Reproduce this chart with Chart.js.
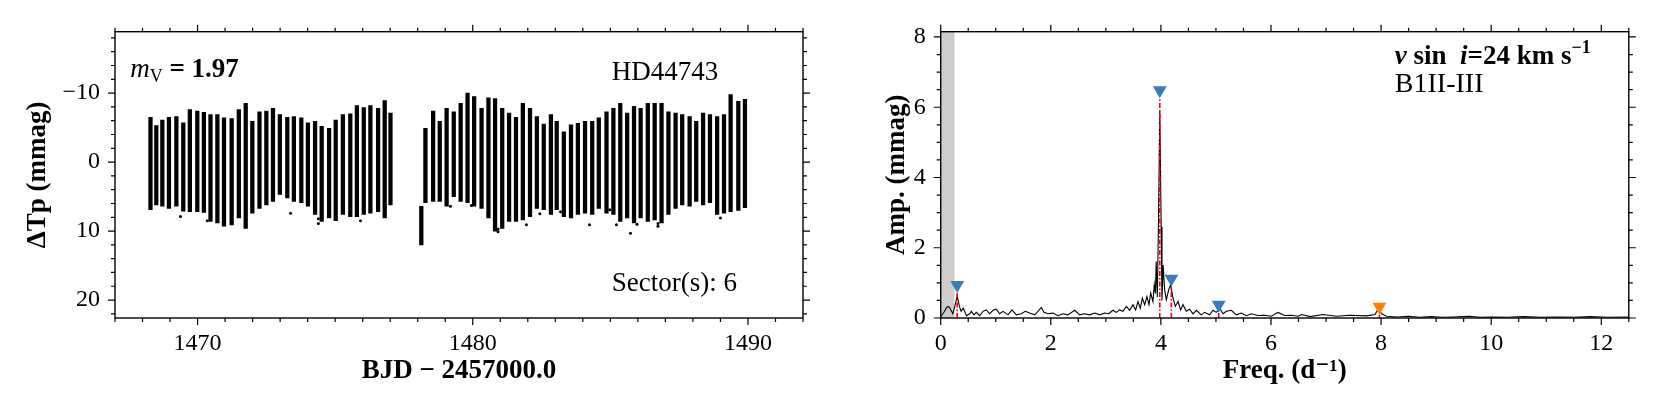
<!DOCTYPE html>
<html>
<head>
<meta charset="utf-8">
<script src="https://cdn.jsdelivr.net/npm/chart.js@4.4.0/dist/chart.umd.min.js"></script>
<style>
  html, body { margin: 0; padding: 0; background: #fff; }
  #wrap { position: relative; width: 1661px; height: 415px; overflow: hidden; }
  canvas { position: absolute; top: 0; }
  #lc { left: 0; }
  #ft { left: 830px; }
</style>
</head>
<body>
<div id="wrap">
  <canvas id="lc" width="830" height="415"></canvas>
  <canvas id="ft" width="831" height="415"></canvas>
</div>
<script>
// --------- Light curve (left panel) ---------
// One entry per pulsation cycle: time of the stripe, brightest and faintest value (mmag)
const lcTime = [
  1468.29, 1468.50, 1468.72, 1468.96, 1469.23, 1469.48, 1469.72, 1469.99, 1470.23, 1470.47,
  1470.72, 1470.96, 1471.24, 1471.50, 1471.75, 1471.99, 1472.25, 1472.50, 1472.74, 1472.99,
  1473.26, 1473.50, 1473.77, 1474.01, 1474.27, 1474.51, 1474.78, 1475.02, 1475.28, 1475.55,
  1475.79, 1476.04, 1476.28, 1476.56, 1476.80, 1477.01,
  1478.13, 1478.28, 1478.56, 1478.80, 1479.05, 1479.31, 1479.56, 1479.81, 1480.05, 1480.32,
  1480.57, 1480.81, 1481.07, 1481.32, 1481.57, 1481.82, 1482.08, 1482.33, 1482.58, 1482.84,
  1483.05, 1483.31, 1483.57, 1483.82, 1484.08, 1484.34, 1484.58, 1484.86, 1485.11, 1485.36,
  1485.61, 1485.86, 1486.10, 1486.36, 1486.61, 1486.86, 1487.11, 1487.37, 1487.61, 1487.88,
  1488.12, 1488.37, 1488.62, 1488.88, 1489.13, 1489.37, 1489.65, 1489.89
];
const lcTop = [
  -6.5, -5.3, -6.1, -6.5, -6.6, -5.7, -7.6, -7.4, -7.2, -6.9,
  -6.9, -6.4, -6.3, -7.6, -8.5, -5.9, -7.3, -7.4, -7.8, -6.9,
  -6.5, -6.6, -6.4, -5.7, -5.9, -5.2, -4.9, -6.1, -6.9, -7.0,
  -8.2, -7.9, -8.2, -7.8, -8.9, -7.1,
  6.4, -4.9, -7.4, -5.9, -7.8, -7.3, -8.5, -10.0, -9.5, -7.8,
  -9.3, -9.2, -7.8, -7.1, -6.5, -8.5, -7.8, -6.6, -5.5, -6.9,
  -5.9, -4.4, -5.4, -5.6, -5.9, -5.9, -6.4, -7.3, -7.8, -8.5,
  -7.1, -8.1, -7.8, -8.5, -8.5, -8.5, -7.3, -7.1, -6.9, -6.6,
  -5.9, -7.1, -6.9, -6.6, -6.9, -9.8, -8.8, -9.1
];
const lcBottom = [
  6.9, 6.2, 6.4, 6.7, 6.4, 7.1, 7.2, 7.2, 7.3, 8.6,
  8.8, 9.3, 9.1, 8.1, 9.6, 7.4, 6.7, 6.2, 5.7, 4.7,
  5.2, 5.7, 5.9, 6.4, 7.6, 8.6, 8.1, 8.5, 7.6, 7.9,
  7.9, 7.6, 7.4, 7.2, 8.1, 6.2,
  12.0, 5.9, 5.7, 5.7, 6.4, 5.0, 5.7, 5.9, 6.4, 6.7,
  8.1, 10.0, 9.6, 8.6, 8.6, 8.4, 7.9, 6.7, 6.9, 7.6,
  6.9, 7.9, 8.1, 7.6, 7.4, 7.6, 6.7, 7.4, 7.6, 8.6,
  8.1, 8.8, 8.1, 8.6, 8.4, 8.8, 7.6, 6.7, 6.2, 6.4,
  5.7, 6.2, 5.9, 7.6, 7.4, 7.2, 7.0, 6.6
];
// Isolated points that stand out of the stripes
const outTime = [1469.38, 1470.35, 1473.38, 1474.39, 1474.39, 1475.92, 1479.19, 1479.95, 1480.92,
  1480.92, 1481.95, 1482.44, 1483.19, 1484.24, 1484.98, 1485.22, 1485.73, 1485.97, 1486.73, 1486.73, 1489.00];
const outMag = [7.9, 8.5, 7.4, 8.2, 8.9, 8.5, 6.4, 6.3, 9.7,
  10.1, 9.1, 7.5, 7.2, 9.1, 6.9, 9.1, 10.3, 9.0, 9.3, 8.9, 8.1];
const lcXTicks = [1470, 1480, 1490];
const lcYTicks = [-10, 0, 10, 20];

// --------- Amplitude spectrum (right panel) ---------
const freq = [
  0.00, 0.04, 0.07, 0.10, 0.13, 0.16, 0.18, 0.22, 0.26, 0.30, 0.34, 0.37, 0.41, 0.47, 0.50,
  0.53, 0.556, 0.605, 0.647, 0.708, 0.768, 0.829, 0.889, 0.95, 1.011, 1.071, 1.132, 1.223,
  1.295, 1.374, 1.465, 1.537, 1.616, 1.707, 1.767, 1.828, 1.876, 1.949, 2.04, 2.131, 2.222,
  2.312, 2.434, 2.525, 2.615, 2.706, 2.797, 2.888, 2.979, 3.051, 3.13, 3.19, 3.251, 3.311,
  3.372, 3.432, 3.493, 3.541, 3.584, 3.626, 3.663, 3.705, 3.747, 3.784, 3.814, 3.856, 3.88,
  3.90, 3.915, 3.935, 3.955, 3.98, 4.005, 4.02, 4.04, 4.068, 4.099, 4.141, 4.177, 4.22,
  4.262, 4.311, 4.359, 4.401, 4.462, 4.522, 4.583, 4.644, 4.734, 4.795, 4.886, 4.946, 5.007,
  5.068, 5.128, 5.189, 5.28, 5.37, 5.461, 5.552, 5.642, 5.763, 5.885, 6.006, 6.127, 6.248,
  6.369, 6.49, 6.56, 6.71, 6.94, 7.19, 7.43, 7.74, 7.89, 7.95, 8.01, 8.10, 8.3, 8.5, 8.7,
  8.9, 9.1, 9.3, 9.6, 9.8, 10.0, 10.3, 10.6, 10.9, 11.2, 11.5, 11.8, 12.1, 12.5
];
const amp = [
  0.04, 0.12, 0.19, 0.28, 0.33, 0.30, 0.24, 0.12, 0.35, 0.62, 0.33, 0.19, 0.28, 0.06, 0.10,
  0.12, 0.19, 0.09, 0.16, 0.065, 0.19, 0.23, 0.12, 0.22, 0.25, 0.12, 0.19, 0.09,
  0.23, 0.09, 0.12, 0.19, 0.14, 0.09, 0.19, 0.30, 0.16, 0.12, 0.14, 0.065, 0.12,
  0.09, 0.22, 0.09, 0.12, 0.09, 0.14, 0.09, 0.14, 0.12, 0.22, 0.16, 0.23, 0.19,
  0.33, 0.22, 0.38, 0.23, 0.47, 0.28, 0.57, 0.38, 0.61, 0.38, 0.71, 0.47, 0.95,
  0.70, 1.61, 0.60, 2.60, 5.90, 2.60, 0.50, 1.51, 0.80, 0.52, 0.80, 0.95, 0.57,
  0.33, 0.47, 0.23, 0.38, 0.19, 0.25, 0.12, 0.22, 0.09, 0.16, 0.09, 0.22, 0.16,
  0.28, 0.12, 0.19, 0.22, 0.09, 0.14, 0.065, 0.12, 0.07, 0.08, 0.05, 0.16, 0.07,
  0.08, 0.05, 0.10, 0.04, 0.10, 0.05, 0.08, 0.06, 0.10, 0.26, 0.12, 0.05, 0.03, 0.05, 0.02,
  0.04, 0.02, 0.03, 0.05, 0.02, 0.03, 0.02, 0.04, 0.02, 0.03, 0.02, 0.04, 0.02, 0.03
];
// Extracted frequencies: red line height and triangle marker height
const peakFreq = [0.30, 3.98, 4.19, 5.05, 7.97];
const peakAmp = [0.71, 6.25, 0.89, 0.15, 0.09];
const markerAmp = [0.94, 6.48, 1.12, 0.38, 0.32];
const peakKind = ["indep", "indep", "indep", "indep", "combo"];
const lowFreqBand = [0, 0.25];
const ftXTicks = [0, 2, 4, 6, 8, 10, 12];
const ftYTicks = [0, 2, 4, 6, 8];

// --------- Shared look ---------
const SERIF = '"Liberation Serif", "DejaVu Serif", serif';
Chart.defaults.font.family = SERIF;
Chart.defaults.color = "#000";

// Frame with outward ticks on all four sides (matplotlib style)
const framePlugin = {
  id: "frame",
  beforeDatasetsDraw(chart, args, opts) {
    if (!opts.band) return;
    const { ctx, chartArea: a, scales: { x } } = chart;
    const x0 = x.getPixelForValue(opts.band[0]);
    const x1 = x.getPixelForValue(opts.band[1]);
    ctx.save();
    ctx.fillStyle = "#cccccc";
    ctx.fillRect(x0, a.top, x1 - x0, a.height);
    ctx.restore();
  },
  afterDatasetsDraw(chart, args, opts) {
    const { ctx, chartArea: a, scales: { x, y } } = chart;
    const minors = (s, step) => {
      const out = [];
      for (let k = Math.ceil(s.min / step - 1e-9); k * step <= s.max + 1e-9; k++) out.push(k * step);
      return out;
    };
    ctx.save();
    ctx.strokeStyle = "#000";
    ctx.lineWidth = 1.2;
    ctx.beginPath();
    const tickX = (v, len) => {
      const p = x.getPixelForValue(v);
      ctx.moveTo(p, a.bottom); ctx.lineTo(p, a.bottom + len);
      ctx.moveTo(p, a.top); ctx.lineTo(p, a.top - len);
    };
    const tickY = (v, len) => {
      const p = y.getPixelForValue(v);
      ctx.moveTo(a.left, p); ctx.lineTo(a.left - len, p);
      ctx.moveTo(a.right, p); ctx.lineTo(a.right + len, p);
    };
    minors(x, opts.xMinor).forEach((v) => tickX(v, 4));
    minors(y, opts.yMinor).forEach((v) => tickY(v, 4));
    x.ticks.forEach((t) => tickX(t.value, 7));
    y.ticks.forEach((t) => tickY(t.value, 7));
    ctx.stroke();
    ctx.lineWidth = 1.4;
    ctx.strokeRect(a.left, a.top, a.width, a.height);
    ctx.restore();
  }
};

// Text annotations placed in axes fractions, built from runs of differently styled text
const notesPlugin = {
  id: "notes",
  afterDraw(chart, args, opts) {
    const { ctx, chartArea: a } = chart;
    ctx.save();
    ctx.fillStyle = "#000";
    ctx.textBaseline = "alphabetic";
    ctx.textAlign = "left";
    (opts.items || []).forEach((item) => {
      let px = a.left + item.fx * a.width;
      const py = a.top + item.fy * a.height;
      item.runs.forEach((r) => {
        ctx.font = r.font;
        ctx.fillText(r.text, px, py + (r.dy || 0));
        px += ctx.measureText(r.text).width;
      });
    });
    ctx.restore();
  }
};

const plainFmt = (v) => (v < 0 ? "\u2212" + Math.abs(v) : String(v));
const tickFont = { size: 24 };
const titleFont = { size: 27, weight: "bold" };

// --------- Chart: light curve ---------
const lcBars = lcTime.map((t, i) => ({ x: t, y: [lcBottom[i], lcTop[i]] }));
const lcOut = outTime.map((t, i) => ({ x: t, y: outMag[i] }));

new Chart(document.getElementById("lc"), {
  type: "bar",
  data: {
    datasets: [
      {
        type: "bar",
        data: lcBars,
        backgroundColor: "#000",
        borderWidth: 0,
        barThickness: 3.6,
        grouped: false
      },
      {
        type: "scatter",
        data: lcOut,
        pointRadius: 1.5,
        backgroundColor: "#000",
        borderWidth: 0
      }
    ]
  },
  options: {
    responsive: false,
    animation: false,
    events: [],
    layout: { padding: { top: 31.7, right: 27, left: 0, bottom: 0 } },
    plugins: {
      legend: { display: false },
      tooltip: { enabled: false },
      frame: { xMinor: 1, yMinor: 2 },
      notes: {
        items: [
          {
            fx: 0.022, fy: 0.159,
            runs: [
              { text: "m", font: `italic 27px ${SERIF}` },
              { text: "V", font: `18px ${SERIF}`, dy: 5 },
              { text: " = 1.97", font: `bold 27px ${SERIF}` }
            ]
          },
          { fx: 0.722, fy: 0.169, runs: [{ text: "HD44743", font: `27px ${SERIF}` }] },
          { fx: 0.722, fy: 0.905, runs: [{ text: "Sector(s): 6", font: `27px ${SERIF}` }] }
        ]
      }
    },
    scales: {
      x: {
        type: "linear",
        min: 1467,
        max: 1492,
        offset: false,
        grid: { display: false, drawTicks: false },
        border: { display: false },
        afterBuildTicks: (s) => { s.ticks = lcXTicks.map((v) => ({ value: v })); },
        afterFit: (s) => { s.height = 97; },
        ticks: { padding: 11, font: tickFont, autoSkip: false, maxRotation: 0, callback: plainFmt },
        title: {
          display: true,
          text: "BJD \u2212 2457000.0",
          font: titleFont,
          padding: { top: 0, bottom: 28 }
        }
      },
      y: {
        type: "linear",
        reverse: true,
        min: -18.9,
        max: 22.6,
        grid: { display: false, drawTicks: false },
        border: { display: false },
        afterBuildTicks: (s) => { s.ticks = lcYTicks.map((v) => ({ value: v })); },
        afterFit: (s) => { s.width = 115; },
        ticks: { padding: 15, font: tickFont, callback: plainFmt },
        title: {
          display: true,
          text: "\u0394Tp (mmag)",
          font: titleFont,
          padding: { top: 22, bottom: 0 }
        }
      }
    }
  },
  plugins: [framePlugin, notesPlugin]
});

// --------- Chart: amplitude spectrum ---------
const ftLine = freq.map((f, i) => ({ x: f, y: amp[i] }));
const redLines = peakFreq.map((f, i) => ({
  type: "line",
  data: [{ x: f, y: 0 }, { x: f, y: peakAmp[i] }],
  borderColor: "#ff0000",
  borderWidth: 1.6,
  borderDash: [5, 2, 1.5, 2],
  pointRadius: 0,
  order: 1
}));

new Chart(document.getElementById("ft"), {
  type: "line",
  data: {
    datasets: [
      {
        type: "scatter",
        data: peakFreq.map((f, i) => ({ x: f, y: markerAmp[i] })),
        pointStyle: "triangle",
        rotation: 180,
        pointRadius: 8,
        backgroundColor: peakKind.map((k) => (k === "combo" ? "#ff7f00" : "#377eb8")),
        borderWidth: 0,
        order: 0
      },
      ...redLines,
      {
        type: "line",
        data: ftLine,
        borderColor: "#000",
        borderWidth: 1.1,
        pointRadius: 0,
        tension: 0,
        order: 2
      }
    ]
  },
  options: {
    responsive: false,
    animation: false,
    events: [],
    layout: { padding: { top: 31.7, right: 32.2, left: 0, bottom: 0 } },
    plugins: {
      legend: { display: false },
      tooltip: { enabled: false },
      frame: { xMinor: 0.5, yMinor: 0.5, band: lowFreqBand },
      notes: {
        items: [
          {
            fx: 0.660, fy: 0.113,
            runs: [
              { text: "v", font: `italic bold 27px ${SERIF}` },
              { text: " sin  ", font: `bold 27px ${SERIF}` },
              { text: "i", font: `italic bold 27px ${SERIF}` },
              { text: "=24 km s", font: `bold 27px ${SERIF}` },
              { text: "\u22121", font: `bold 18px ${SERIF}`, dy: -11 }
            ]
          },
          { fx: 0.660, fy: 0.209, runs: [{ text: "B1II-III", font: `28px ${SERIF}` }] }
        ]
      }
    },
    scales: {
      x: {
        type: "linear",
        min: 0,
        max: 12.5,
        grid: { display: false, drawTicks: false },
        border: { display: false },
        afterBuildTicks: (s) => { s.ticks = ftXTicks.map((v) => ({ value: v })); },
        afterFit: (s) => { s.height = 97; },
        ticks: { padding: 11, font: tickFont, autoSkip: false, maxRotation: 0, callback: plainFmt },
        title: {
          display: true,
          text: "Freq. (d\u207B\u00B9)",
          font: titleFont,
          padding: { top: 0, bottom: 28 }
        }
      },
      y: {
        type: "linear",
        min: 0,
        max: 8.15,
        grid: { display: false, drawTicks: false },
        border: { display: false },
        afterBuildTicks: (s) => { s.ticks = ftYTicks.map((v) => ({ value: v })); },
        afterFit: (s) => { s.width = 110.7; },
        ticks: { padding: 15, font: tickFont, callback: plainFmt },
        title: {
          display: true,
          text: "Amp. (mmag)",
          font: titleFont,
          padding: { top: 51, bottom: 0 }
        }
      }
    }
  },
  plugins: [framePlugin, notesPlugin]
});
</script>
</body>
</html>
